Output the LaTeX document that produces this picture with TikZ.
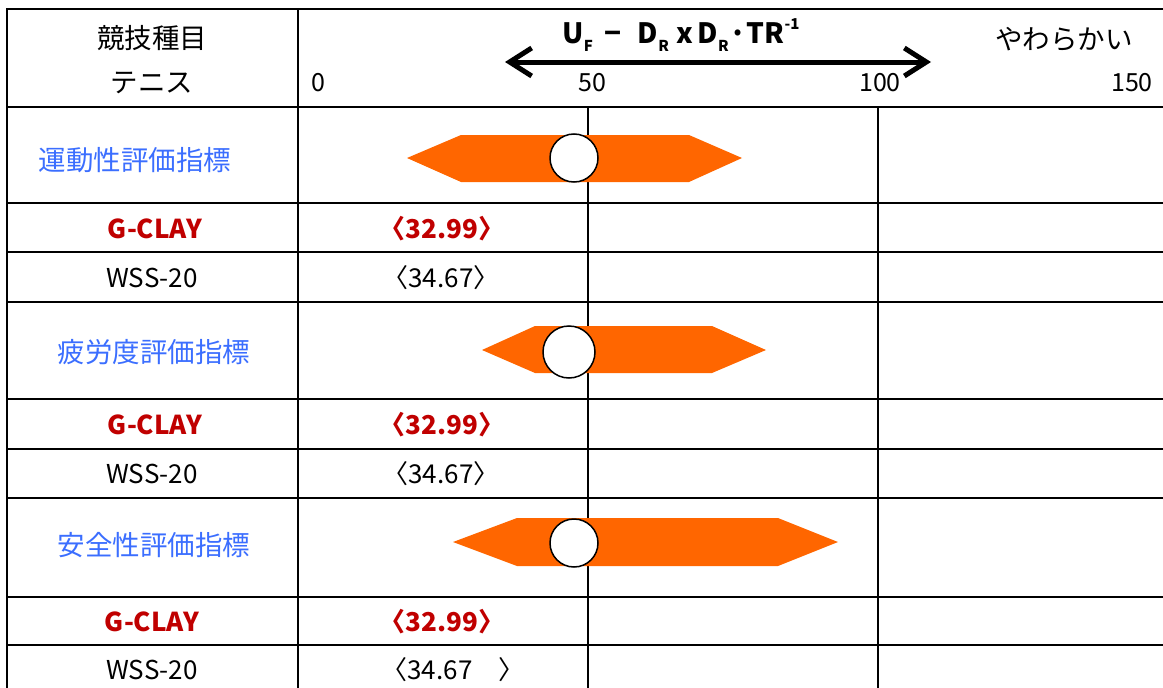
\documentclass[tikz,border=0pt]{standalone}
\usepackage{fontspec}
\setmainfont{Noto Sans CJK JP}
\usetikzlibrary{arrows.meta,positioning}
\definecolor{idxblue}{RGB}{59,110,255}
\definecolor{clayred}{RGB}{192,0,0}
\definecolor{bandorange}{RGB}{255,102,0}
\newcommand{\lowix}[1]{\raisebox{-0.28em}{\fontsize{15}{15}\selectfont #1}}
\newcommand{\upix}[1]{\raisebox{0.5em}{\fontsize{15}{15}\selectfont #1}}

\begin{document}
\begin{tikzpicture}[
    x=1pt, y=-1pt,
    font=\fontsize{25}{28}\selectfont,
    rule/.style={line width=2.5pt},
    gridln/.style={line width=1.5pt},
    band/.style={fill=bandorange, draw=none},
    dot/.style={circle, draw, fill=white, line width=1.5pt, inner sep=0pt},
    jp/.style={font=\fontsize{27.5}{30}\selectfont},
    idx/.style={jp, text=idxblue},
    mdl/.style={font=\fontsize{26}{28}\selectfont},
    clay/.style={text=clayred, font=\fontsize{26}{28}\selectfont\bfseries},
    fml/.style={font=\fontsize{28}{30}\selectfont\bfseries},
    dbl/.style={{Straight Barb[length=22pt,width=28pt]}-{Straight Barb[length=22pt,width=28pt]}, line width=5pt}
  ]
    \useasboundingbox (0,0) rectangle (1163,688);
    \clip (0,0) rectangle (1163,688);
    % table rules
    \draw[rule] (7,690) -- (7,9) -- (1170,9);
    \draw[rule] (298,9) -- (298,690);
    \foreach \y in {107,203,252,302,399,449,498,597,645}
      \draw[rule] (7,\y) -- (1170,\y);
    \draw[gridln] (588,107) -- (588,690);
    \draw[gridln] (878,107) -- (878,690);

    % header
    \node[jp] (Evt) at (152,38) {競技種目};
    \node[jp] (Ten) at (152,83) {テニス};
    \node (S0) at (318,83) {0};
    \node (S50) at (592,83) {50};
    \node (S100) at (880,83) {100};
    \node (S150) at (1132,83) {150};
    \node[jp] (Soft) at (1064,39) {やわらかい};
    \node[fml] (Fml) at (681,35) {U\lowix{F}\hspace{12pt}−\hspace{16pt}D\lowix{R}\hspace{7pt}x\hspace{5pt}D\lowix{R}\hspace{1pt}·\hspace{0pt}TR\upix{-1}};
    \coordinate (ArrL) at (505,62);
    \coordinate (ArrR) at (931,62);
    \draw[dbl] (ArrL) -- (ArrR);

    % bands
    \fill[band] (407,158) -- (461,135) -- (689,135) -- (742,158) -- (689,182) -- (461,182) -- cycle;
    \fill[band] (482,350) -- (535,326) -- (712,326) -- (766,350) -- (712,373) -- (535,373) -- cycle;
    \fill[band] (453,542) -- (517,518) -- (778,518) -- (838,542) -- (778,566) -- (517,566) -- cycle;
    \node[dot, minimum size=48pt] (C1) at (574,158) {};
    \node[dot, minimum size=52pt] (C2) at (569,352) {};
    \node[dot, minimum size=48pt] (C3) at (574,543) {};

    % rows
    \node[idx] (I1) at (135,160) {運動性評価指標};
    \node[clay] (G1) at (155,229) {G-CLAY};
    \node[clay] (GV1) at (442,229) {〈32.99〉};
    \node[mdl] (W1) at (152,278) {WSS-20};
    \node[mdl] (WV1) at (441,278) {〈34.67〉};

    \node[idx] (I2) at (154,352) {疲労度評価指標};
    \node[clay] (G2) at (155,425) {G-CLAY};
    \node[clay] (GV2) at (442,425) {〈32.99〉};
    \node[mdl] (W2) at (152,474) {WSS-20};
    \node[mdl] (WV2) at (441,474) {〈34.67〉};

    \node[idx] (I3) at (154,545) {安全性評価指標};
    \node[clay] (G3) at (152,622) {G-CLAY};
    \node[clay] (GV3) at (442,622) {〈32.99〉};
    \node[mdl] (W3) at (152,670) {WSS-20};
    \node[mdl] (WV3) at (453,670) {〈34.67　〉};
  \end{tikzpicture}
\end{document}
